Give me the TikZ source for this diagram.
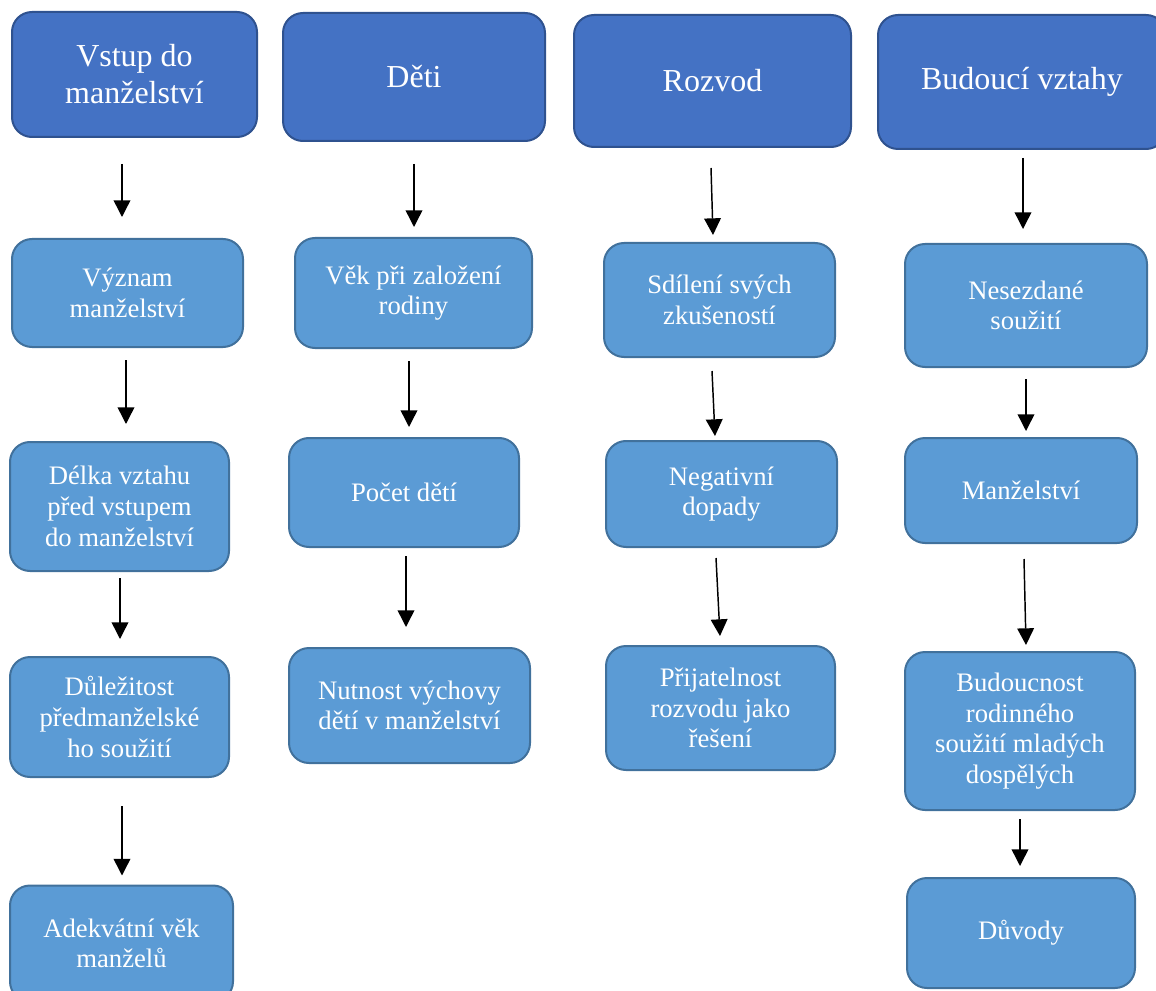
\documentclass[tikz,border=0pt]{standalone}
\usepackage{fontspec}
\setmainfont{Liberation Serif}
\usepackage{xcolor}
\usepackage{tikz}
\usetikzlibrary{shapes,arrows.meta,calc}
\definecolor{colorH}{RGB}{68,114,196}
\definecolor{colorHb}{RGB}{47,82,143}
\definecolor{colorS}{RGB}{91,155,213}
\definecolor{colorSb}{RGB}{65,113,156}
\tikzstyle{line}=[draw, -{Triangle[length=12.5pt,width=12.5pt]}, line width=1.1pt]
\tikzstyle{block}=[rectangle, rounded corners=15pt, line width=1.5pt, text=white, align=center, inner sep=0pt]
\tikzstyle{head}=[block, fill=colorH, draw=colorHb, font={\fontsize{24pt}{27.75pt}\selectfont}]
\tikzstyle{sub}=[block, fill=colorS, draw=colorSb, font={\fontsize{20pt}{23pt}\selectfont}]

\begin{document}
\begin{tikzpicture}[x=0.75pt, y=-0.75pt]
\useasboundingbox (0,0) rectangle (1156,991);

%%% Vstup do manzelstvi
\node[head, minimum width=183.75pt, minimum height=93.75pt] (vstup_head) at (134.5,74.5) {Vstup do\\manželství};
\node[sub, minimum width=173.25pt, minimum height=81pt] (vyznam_sub) at (127.5,293) {Význam\\manželství};
\node[sub, minimum width=164.25pt, minimum height=96.75pt] (delka_sub) at (119.5,506.5) {Délka vztahu\\před vstupem\\do manželství};
\node[sub, minimum width=164.25pt, minimum height=90pt] (dulez_sub) at (119.5,717) {Důležitost\\předmanželské\\ho soužití};
\node[sub, minimum width=167.25pt, minimum height=87pt] (adekv_sub) at (121.5,943.5) {Adekvátní věk\\manželů};

\draw[line] ($(vstup_head.south)+(-12.5,26)$) -- ($(vyznam_sub.north)+(-5.5,-21)$);
\draw[line] ($(vyznam_sub.south)+(-1.5,12)$) -- ($(delka_sub.north)+(6.5,-17)$);
\draw[line] ($(delka_sub.south)+(0.5,6)$) -- ($(dulez_sub.north)+(0.5,-17)$);
\draw[line] ($(dulez_sub.south)+(2.5,28)$) -- ($(adekv_sub.north)+(0.5,-9)$);

%%% Deti
\node[head, minimum width=196.5pt, minimum height=96pt] (deti_head) at (414,77) {Děti};
\node[sub, minimum width=177.75pt, minimum height=82.5pt] (vek_sub) at (413.5,293) {Věk při založení\\rodiny};
\node[sub, minimum width=172.5pt, minimum height=81.75pt] (pocet_sub) at (404,492.5) {Počet dětí};
\node[sub, minimum width=180.75pt, minimum height=86.25pt] (nutnost_sub) at (409.5,705.5) {Nutnost výchovy\\dětí v manželství};

\draw[line] ($(deti_head.south)+(0,22)$) -- ($(vek_sub.north)+(0.5,-10)$);
\draw[line] ($(vek_sub.south)+(-4.5,12)$) -- ($(pocet_sub.north)+(5,-10)$);
\draw[line] ($(pocet_sub.south)+(2,8)$) -- ($(nutnost_sub.north)+(-3.5,-20)$);

%%% Rozvod
\node[head, minimum width=207.75pt, minimum height=99pt] (rozvod_head) at (712.5,81) {Rozvod};
\node[sub, minimum width=173.25pt, minimum height=85.5pt] (sdileni_sub) at (719.5,300) {Sdílení svých\\zkušeností};
\node[sub, minimum width=173.25pt, minimum height=79.5pt] (negat_sub) at (721.5,494) {Negativní\\dopady};
\node[sub, minimum width=171.75pt, minimum height=93pt] (prijat_sub) at (720.5,708) {Přijatelnost\\rozvodu jako\\řešení};

\draw[line] ($(rozvod_head.south)+(-1.5,20)$) -- ($(sdileni_sub.north)+(-6.5,-7)$);
\draw[line] ($(sdileni_sub.south)+(-7.5,13)$) -- ($(negat_sub.north)+(-6.5,-4)$);
\draw[line] ($(negat_sub.south)+(-5.5,10)$) -- ($(prijat_sub.north)+(-0.5,-9)$);

%%% Budouci vztahy
\node[head, minimum width=216pt, minimum height=100.5pt] (budouci_head) at (1022,82) {Budoucí vztahy};
\node[sub, minimum width=181.5pt, minimum height=92.25pt] (nesezd_sub) at (1026,305.5) {Nesezdané\\soužití};
\node[sub, minimum width=174pt, minimum height=78.75pt] (manz_sub) at (1021,490.5) {Manželství};
\node[sub, minimum width=172.5pt, minimum height=118.5pt] (budoucn_sub) at (1020,731) {Budoucnost\\rodinného\\soužití mladých\\dospělých};
\node[sub, minimum width=171pt, minimum height=82.5pt] (duvody_sub) at (1021,933) {Důvody};

\draw[line] ($(budouci_head.south)+(1,8)$) -- ($(nesezd_sub.north)+(-3,-14)$);
\draw[line] ($(nesezd_sub.south)+(0,11)$) -- ($(manz_sub.north)+(5,-6)$);
\draw[line] ($(manz_sub.south)+(3,15)$) -- ($(budoucn_sub.north)+(6,-6)$);
\draw[line] ($(budoucn_sub.south)+(0,8)$) -- ($(duvody_sub.north)+(-1,-11)$);

\end{tikzpicture}
\end{document}
